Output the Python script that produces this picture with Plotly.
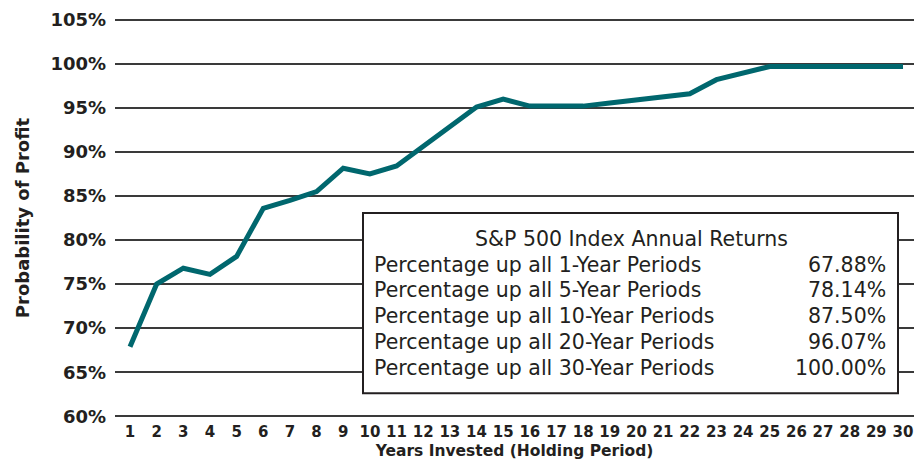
import plotly.graph_objects as go

# Years invested (holding period) and probability of profit (%)
years = list(range(1, 31))
prob_profit = [67.88, 75.0, 76.8, 76.1, 78.14, 83.6, 84.5, 85.5, 88.15, 87.5,
               88.4, 90.6, 92.8, 95.1, 96.0, 95.2, 95.2, 95.2, 95.55, 95.9,
               96.25, 96.6, 98.2, 99.0, 99.7, 99.7, 99.7, 99.7, 99.7, 99.7]

y_ticks = [60, 65, 70, 75, 80, 85, 90, 95, 100, 105]
y_tick_labels = [f"{v}%" for v in y_ticks]

# Summary table
table_title = "S&P 500 Index Annual Returns"
table_labels = ["Percentage up all 1-Year Periods",
                "Percentage up all 5-Year Periods",
                "Percentage up all 10-Year Periods",
                "Percentage up all 20-Year Periods",
                "Percentage up all 30-Year Periods"]
table_values = ["67.88%", "78.14%", "87.50%", "96.07%", "100.00%"]

# page body has an 8px margin on every side: size the figure so the page
# fits the 922x468 window exactly, and work in window pixels below
OFF = 8
W, H = 922 - 2 * OFF, 468 - 2 * OFF
L, R, T = 115 - OFF, 0, 18.24 - OFF
B = H - (417.76 - OFF)
plot_w = W - L - R
plot_h = H - T - B


def px(x):
    return (x - OFF - L) / plot_w


def py(y):
    return (H - B - (y - OFF)) / plot_h


teal = "#00676e"
ink = "#231f20"
font_main = "DejaVu Sans"
txt = dict(family=font_main, size=20.5, color=ink)

fig = go.Figure(go.Scatter(
    x=years, y=prob_profit, mode="lines",
    line=dict(color=teal, width=5),
    hoverinfo="x+y",
))

shapes = [dict(type="rect", xref="paper", yref="paper",
               x0=px(363), x1=px(898), y0=py(393), y1=py(213),
               fillcolor="white", line=dict(color=ink, width=2),
               layer="above")]

annotations = [dict(text=table_title, xref="paper", yref="paper",
                    x=px(631), y=py(239), xanchor="center", yanchor="middle",
                    showarrow=False, font=txt)]
row_y = [265, 290, 316, 342, 368]
for lab, val, ry in zip(table_labels, table_values, row_y):
    annotations.append(dict(text=lab, xref="paper", yref="paper",
                            x=px(372), y=py(ry), xanchor="left", yanchor="middle",
                            showarrow=False, font=txt))
    annotations.append(dict(text=val, xref="paper", yref="paper",
                            x=px(888), y=py(ry), xanchor="right", yanchor="middle",
                            showarrow=False, font=txt))

fig.update_layout(
    width=W, height=H,
    margin=dict(l=L, r=R, t=T, b=B, pad=0),
    paper_bgcolor="white", plot_bgcolor="white",
    showlegend=False,
    shapes=shapes,
    annotations=annotations,
    xaxis=dict(
        range=[0.4373, 30.412],
        tickmode="array", tickvals=years, ticktext=[str(y) for y in years],
        showgrid=False, zeroline=False, showline=False,
        ticks="", ticklabelstandoff=3,
        tickfont=dict(family=font_main, size=15, color=ink, weight="bold"),
        title=dict(text="Years Invested (Holding Period)", standoff=6,
                   font=dict(family=font_main, size=15.5, color=ink, weight="bold")),
    ),
    yaxis=dict(
        range=[59.8, 105.2],
        tickmode="array", tickvals=y_ticks, ticktext=y_tick_labels,
        showgrid=True, gridcolor="#3a3a3a", gridwidth=1.5,
        zeroline=False, showline=False, ticks="",
        ticklabelstandoff=8,
        tickfont=dict(family=font_main, size=18, color=ink, weight="bold"),
        title=dict(text="Probability of Profit", standoff=16,
                   font=dict(family=font_main, size=18, color=ink, weight="bold")),
    ),
)

fig.write_html("out.html")
